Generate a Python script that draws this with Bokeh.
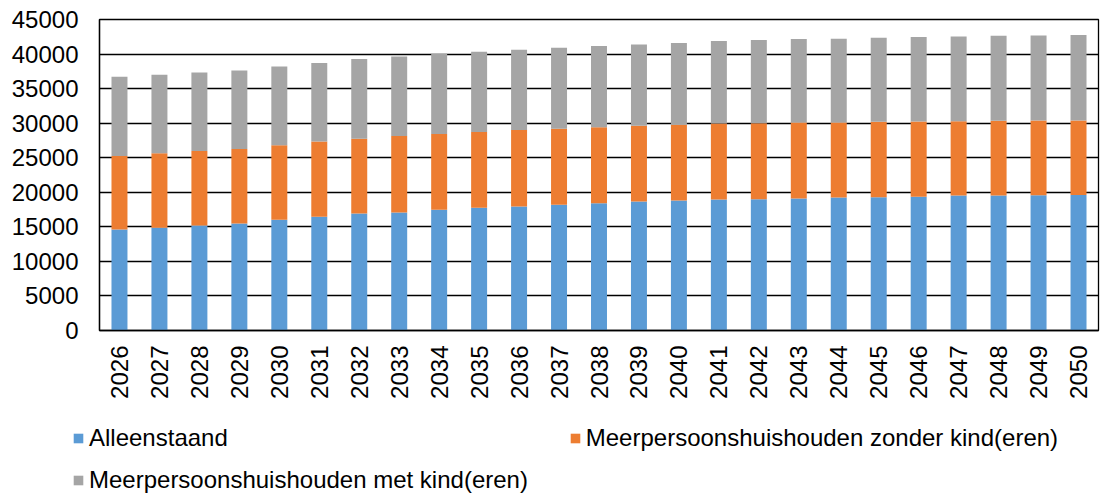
import math
from bokeh.plotting import figure
from bokeh.layouts import column
from bokeh.models import Legend, LegendItem, FactorRange, Range1d, FixedTicker
from bokeh.embed import file_html
from bokeh.resources import INLINE

years = [str(y) for y in range(2026, 2051)]
alleenstaand = [14600, 14850, 15190, 15480, 16020, 16460, 16940, 17090, 17470, 17760,
                17960, 18200, 18410, 18650, 18800, 18940, 18990, 19090, 19230, 19280,
                19370, 19520, 19520, 19570, 19610]
totaal_zonder = [25240, 25630, 25970, 26260, 26790, 27330, 27760, 28150, 28440, 28730,
                 29020, 29200, 29420, 29610, 29760, 29950, 30000, 30100, 30100, 30190,
                 30240, 30290, 30340, 30380, 30380]
totaal_met = [36700, 36990, 37330, 37620, 38200, 38720, 39300, 39640, 40050, 40340,
              40630, 40910, 41180, 41400, 41590, 41880, 42020, 42170, 42210, 42360,
              42450, 42550, 42650, 42690, 42740]

zonder = [b - a for a, b in zip(alleenstaand, totaal_zonder)]
met = [c - b for b, c in zip(totaal_zonder, totaal_met)]

names = ["Alleenstaand", "Meerpersoonshuishouden zonder kind(eren)",
         "Meerpersoonshuishouden met kind(eren)"]
colors = ["#5B9BD5", "#ED7D31", "#A5A5A5"]
FONT = "Liberation Sans"

p = figure(x_range=FactorRange(*years), y_range=Range1d(0, 45000),
           width=1109, height=410, output_backend="svg", toolbar_location=None,
           min_border_left=99, min_border_right=11, min_border_top=19, min_border_bottom=80)
p.frame_align = False

data = dict(x=years, a=alleenstaand, z=zonder, m=met)
r = p.vbar_stack(["a", "z", "m"], x="x", width=0.4, source=data, color=colors,
                 line_color=None)

p.yaxis.ticker = FixedTicker(ticks=list(range(0, 45001, 5000)))
p.ygrid.grid_line_color = "black"
p.ygrid.grid_line_width = 1.3
p.xgrid.grid_line_color = None
p.outline_line_color = "black"
p.outline_line_width = 1.3

for ax in (p.xaxis, p.yaxis):
    ax.axis_line_color = "black"
    ax.axis_line_width = 1.3
    ax.major_tick_line_color = None
    ax.minor_tick_line_color = None
    ax.major_tick_out = 0
    ax.major_tick_in = 0
    ax.major_label_text_font = FONT
    ax.major_label_text_font_size = "24px"
    ax.major_label_text_color = "black"
p.yaxis.major_label_standoff = 21
p.xaxis.major_label_standoff = 15
p.xaxis.major_label_orientation = math.pi / 2

# Legend area: a second, axis-less figure directly under the chart
q = figure(width=1109, height=88, output_backend="svg", toolbar_location=None,
           x_axis_type=None, y_axis_type=None,
           x_range=Range1d(0, 1), y_range=Range1d(0, 1),
           min_border=0, min_border_left=0, min_border_right=0,
           min_border_top=0, min_border_bottom=0)
q.frame_align = False
q.outline_line_color = None
q.xgrid.grid_line_color = None
q.ygrid.grid_line_color = None
# zero-size proxy glyphs, only used to draw the legend swatches
swatches = [q.vbar(x=[0], top=[0], width=0, color=c, line_color=None) for c in colors]

def make_legend(items, loc, spacing=0):
    return Legend(items=items, location=loc, orientation="horizontal",
                  label_text_font=FONT, label_text_font_size="24px",
                  label_text_color="black", glyph_width=12, glyph_height=12,
                  label_height=28, label_standoff=5, spacing=spacing,
                  padding=0, margin=0, border_line_color=None,
                  background_fill_alpha=0)

leg1 = make_legend([LegendItem(label=names[0], renderers=[swatches[0]]),
                    LegendItem(label=names[1], renderers=[swatches[1]])], (72, 46), spacing=341)
leg2 = make_legend([LegendItem(label=names[2], renderers=[swatches[2]])], (72, 4))
q.add_layout(leg1, "center")
q.add_layout(leg2, "center")

layout = column(p, q, spacing=0)
open("out.html", "w").write(file_html(layout, INLINE))
